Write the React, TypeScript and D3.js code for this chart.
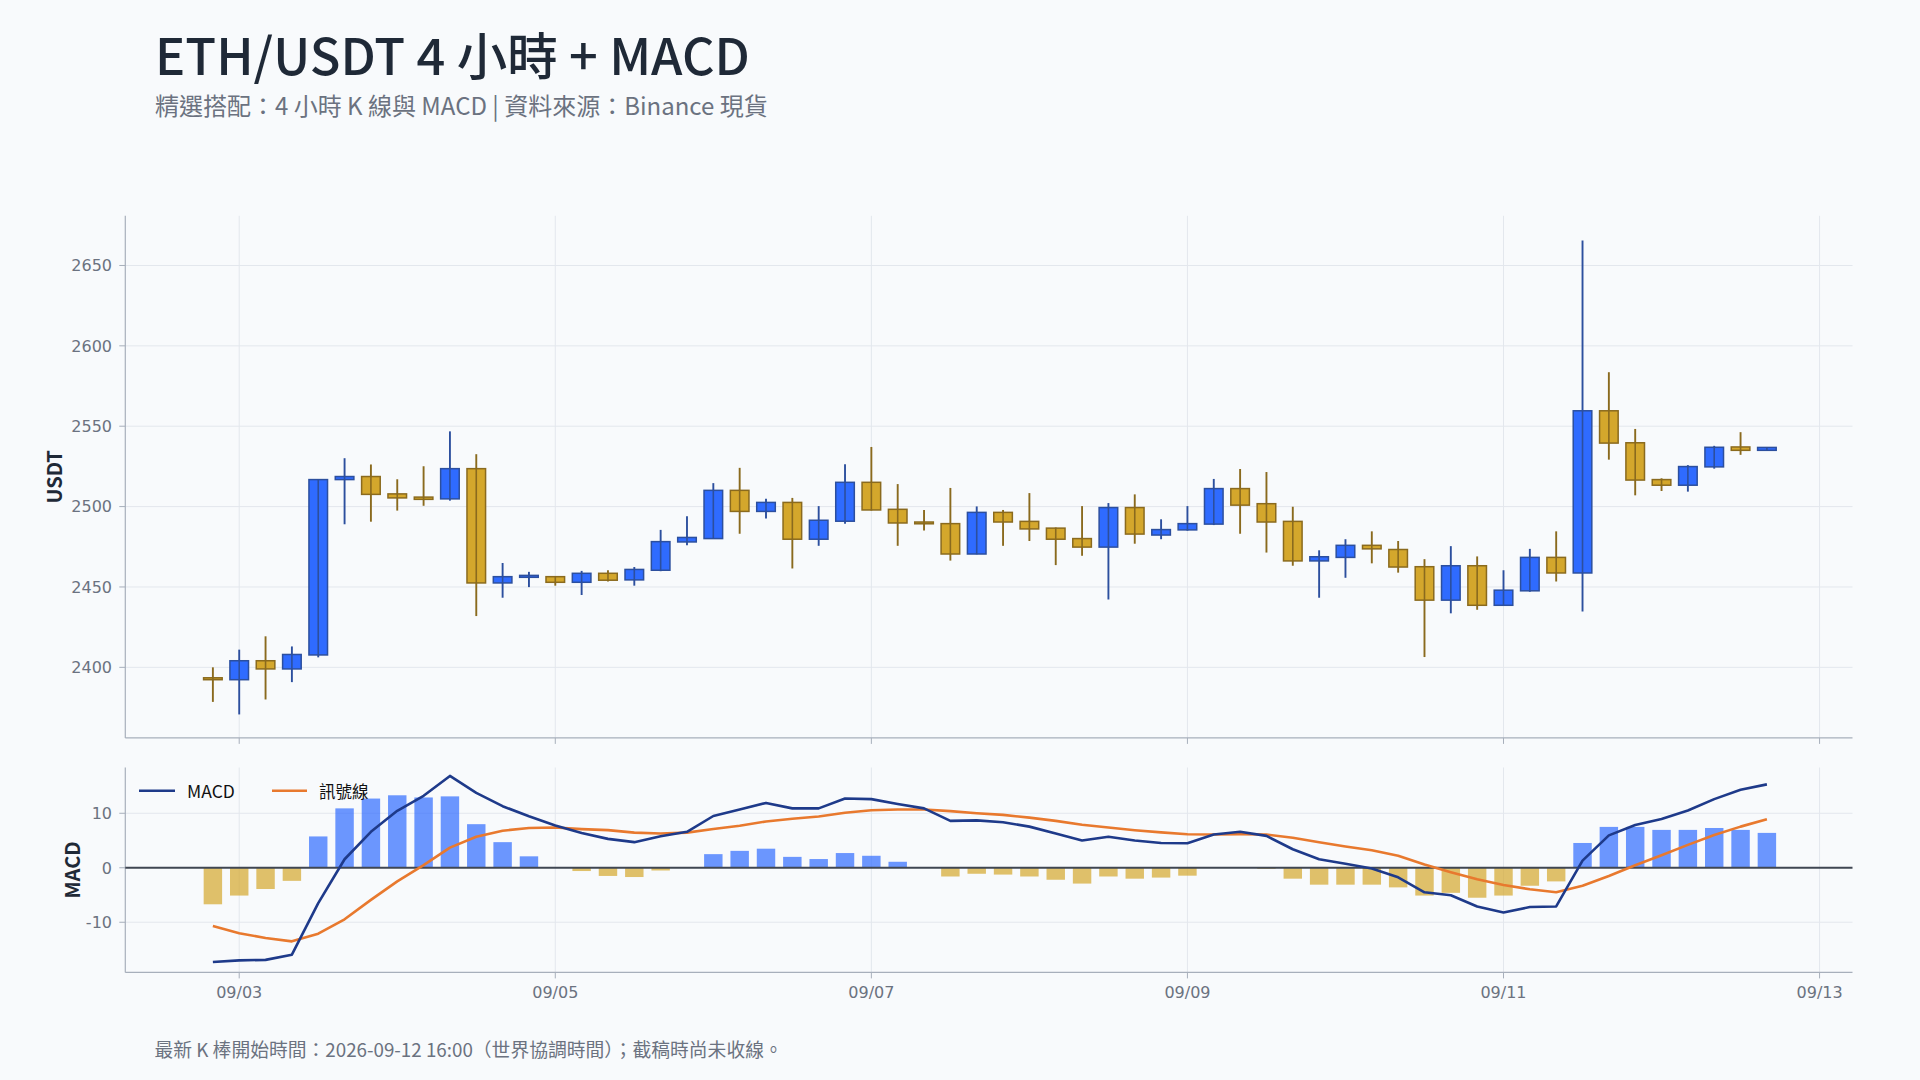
import React from "react";
import * as d3 from "d3";

// ---------- data ----------
const times = [
  "2026-09-02 20:00",
  "2026-09-03 00:00", "2026-09-03 04:00", "2026-09-03 08:00", "2026-09-03 12:00", "2026-09-03 16:00", "2026-09-03 20:00",
  "2026-09-04 00:00", "2026-09-04 04:00", "2026-09-04 08:00", "2026-09-04 12:00", "2026-09-04 16:00", "2026-09-04 20:00",
  "2026-09-05 00:00", "2026-09-05 04:00", "2026-09-05 08:00", "2026-09-05 12:00", "2026-09-05 16:00", "2026-09-05 20:00",
  "2026-09-06 00:00", "2026-09-06 04:00", "2026-09-06 08:00", "2026-09-06 12:00", "2026-09-06 16:00", "2026-09-06 20:00",
  "2026-09-07 00:00", "2026-09-07 04:00", "2026-09-07 08:00", "2026-09-07 12:00", "2026-09-07 16:00", "2026-09-07 20:00",
  "2026-09-08 00:00", "2026-09-08 04:00", "2026-09-08 08:00", "2026-09-08 12:00", "2026-09-08 16:00", "2026-09-08 20:00",
  "2026-09-09 00:00", "2026-09-09 04:00", "2026-09-09 08:00", "2026-09-09 12:00", "2026-09-09 16:00", "2026-09-09 20:00",
  "2026-09-10 00:00", "2026-09-10 04:00", "2026-09-10 08:00", "2026-09-10 12:00", "2026-09-10 16:00", "2026-09-10 20:00",
  "2026-09-11 00:00", "2026-09-11 04:00", "2026-09-11 08:00", "2026-09-11 12:00", "2026-09-11 16:00", "2026-09-11 20:00",
  "2026-09-12 00:00", "2026-09-12 04:00", "2026-09-12 08:00", "2026-09-12 12:00", "2026-09-12 16:00",
];

const opens = [
  2393.5, 2392.3, 2404.1, 2399.0, 2407.7, 2516.8, 2518.7, 2507.9, 2505.9, 2504.8,
  2523.6, 2452.5, 2456.0, 2456.4, 2452.9, 2458.5, 2454.4, 2460.4, 2478.0, 2480.1,
  2510.1, 2497.0, 2502.6, 2479.7, 2490.9, 2515.1, 2498.3, 2490.4, 2489.4, 2470.5,
  2496.4, 2490.8, 2486.6, 2480.1, 2474.8, 2499.4, 2482.3, 2485.5, 2489.1, 2511.2,
  2501.8, 2490.8, 2466.2, 2468.4, 2475.9, 2473.3, 2462.6, 2441.8, 2463.2, 2438.6,
  2447.6, 2468.4, 2458.7, 2559.6, 2539.7, 2516.8, 2513.3, 2524.7, 2537.1, 2535.0,
];
const highs = [
  2400.0, 2411.0, 2419.3, 2413.0, 2517.0, 2530.1, 2526.2, 2517.0, 2525.1, 2546.8,
  2532.6, 2464.9, 2459.4, 2456.8, 2460.0, 2460.4, 2462.4, 2485.5, 2494.0, 2514.6,
  2524.1, 2504.8, 2505.4, 2500.3, 2526.4, 2537.1, 2514.0, 2497.9, 2511.6, 2500.1,
  2497.9, 2508.4, 2487.0, 2500.3, 2502.2, 2507.6, 2492.1, 2500.3, 2517.2, 2523.4,
  2521.5, 2499.9, 2472.8, 2479.7, 2484.6, 2478.6, 2467.3, 2475.4, 2469.0, 2460.4,
  2473.7, 2484.6, 2665.6, 2583.6, 2548.3, 2517.6, 2525.8, 2537.8, 2546.3, 2537.0,
];
const lows = [
  2378.5, 2370.7, 2380.0, 2390.8, 2406.2, 2489.0, 2490.6, 2497.5, 2500.5, 2503.7,
  2431.9, 2443.3, 2449.9, 2450.8, 2445.0, 2453.4, 2450.8, 2459.8, 2475.9, 2480.0,
  2483.1, 2492.6, 2461.5, 2475.6, 2489.4, 2497.5, 2475.6, 2485.1, 2466.4, 2470.3,
  2475.6, 2478.6, 2463.6, 2469.4, 2442.2, 2476.9, 2479.7, 2485.0, 2488.5, 2483.1,
  2471.4, 2463.2, 2443.3, 2455.7, 2464.7, 2458.9, 2406.4, 2433.6, 2435.8, 2438.4,
  2447.0, 2453.4, 2434.7, 2529.2, 2507.0, 2509.7, 2509.3, 2523.6, 2532.2, 2535.0,
];
const closes = [
  2392.3, 2404.1, 2399.0, 2408.0, 2516.8, 2518.7, 2507.6, 2505.4, 2504.5, 2523.6,
  2452.5, 2456.4, 2457.2, 2452.9, 2458.5, 2454.2, 2460.9, 2478.2, 2480.8, 2510.1,
  2497.0, 2502.6, 2479.7, 2491.5, 2515.1, 2497.9, 2489.8, 2489.3, 2470.5, 2496.4,
  2490.4, 2486.1, 2479.7, 2474.8, 2499.4, 2482.9, 2485.7, 2489.4, 2511.2, 2500.9,
  2490.4, 2466.2, 2468.8, 2475.9, 2473.7, 2462.4, 2441.8, 2463.2, 2438.6, 2448.0,
  2468.4, 2458.7, 2559.6, 2539.5, 2516.5, 2513.3, 2524.9, 2536.9, 2535.0, 2536.8,
];

const macdValues = [
  -17.3, -17.0, -16.9, -15.95, -6.5, 1.56, 6.6, 10.45, 13.2, 16.85,
  13.75, 11.3, 9.45, 7.75, 6.4, 5.3, 4.7, 5.8, 6.6, 9.5,
  10.7, 11.9, 10.9, 10.9, 12.7, 12.6, 11.7, 10.9, 8.6, 8.7,
  8.35, 7.55, 6.3, 5.0, 5.7, 5.0, 4.55, 4.5, 6.1, 6.6,
  5.85, 3.4, 1.55, 0.75, -0.15, -1.75, -4.5, -5.05, -7.1, -8.2,
  -7.2, -7.1, 1.3, 5.95, 7.85, 8.95, 10.5, 12.6, 14.3, 15.3,
];
const signalValues = [
  -10.7, -12.0, -12.9, -13.5, -12.1, -9.45, -5.9, -2.5, 0.5, 3.7,
  5.7, 6.8, 7.3, 7.4, 7.1, 6.9, 6.45, 6.3, 6.45, 7.1,
  7.7, 8.5, 9.0, 9.4, 10.1, 10.55, 10.7, 10.7, 10.4, 10.0,
  9.7, 9.2, 8.6, 7.9, 7.4, 6.9, 6.5, 6.15, 6.1, 6.15,
  6.1, 5.5, 4.7, 3.9, 3.2, 2.2, 0.6, -0.8, -2.1, -3.15,
  -3.95, -4.5, -3.3, -1.5, 0.45, 2.3, 4.2, 6.0, 7.55, 8.9,
];
const histValues = [
  -6.7, -5.1, -3.9, -2.4, 5.75, 10.9, 12.7, 13.3, 12.9, 13.1,
  8.0, 4.7, 2.1, 0.1, -0.6, -1.5, -1.7, -0.5, 0.1, 2.5,
  3.1, 3.5, 2.0, 1.6, 2.7, 2.2, 1.1, 0.0, -1.6, -1.1,
  -1.25, -1.6, -2.2, -2.9, -1.6, -2.0, -1.8, -1.45, 0.0, 0.1,
  -0.2, -2.0, -3.1, -3.1, -3.1, -3.6, -5.1, -4.6, -5.5, -5.1,
  -3.3, -2.5, 4.55, 7.5, 7.5, 6.95, 6.95, 7.3, 6.95, 6.4,
];

const priceTicks = [2400, 2450, 2500, 2550, 2600, 2650];
const macdTicks = [-10, 0, 10];
const dateTicks = ["2026-09-03 00:00", "2026-09-05 00:00", "2026-09-07 00:00", "2026-09-09 00:00", "2026-09-11 00:00", "2026-09-13 00:00"];

const titleText = "ETH/USDT 4 小時 + MACD";
const subtitleText = "精選搭配：4 小時 K 線與 MACD | 資料來源：Binance 現貨";
const footerText = "最新 K 棒開始時間：2026-09-12 16:00（世界協調時間）；截稿時尚未收線。";
const legendLabels = ["MACD", "訊號線"];

// ---------- styles ----------
const BG = "#f8fafc";
const GRID = "#e3e7ed";
const AXIS = "#a7afbb";
const TICK_TEXT = "#6b7280";
const UP_FILL = "#2f6bff";
const UP_LINE = "#2c4f9e";
const DOWN_FILL = "#d4a72c";
const DOWN_LINE = "#8a6a1e";
const MACD_COLOR = "#1e3a8a";
const SIGNAL_COLOR = "#e8792e";
const TICK_FONT = "'DejaVu Sans', Verdana, sans-serif";
const CJK_FONT = "'Noto Sans CJK TC', 'Noto Sans', sans-serif";

const parse = d3.utcParse("%Y-%m-%d %H:%M");

export default function App() {
  const dates = times.map((t) => parse(t) as Date);
  const candles = dates.map((d, i) => ({
    d, o: opens[i], h: highs[i], l: lows[i], c: closes[i],
    macd: macdValues[i], sig: signalValues[i], hist: histValues[i],
  }));

  const left = 125.3, right = 1852.5;
  const topY0 = 215.8, topY1 = 737.9;
  const bot0 = 767.5, bot1 = 972.4;

  const hour = 3600 * 1000;
  const x = d3.scaleUtc()
    .domain([new Date(+dates[0] - 13.3 * hour), new Date(+dates[dates.length - 1] + 13.0 * hour)])
    .range([left, right]);
  const y = d3.scaleLinear().domain([2356.1, 2680.9]).range([topY1, topY0]);
  const ym = d3.scaleLinear().domain([-19.2, 18.4]).range([bot1, bot0]);

  const step = x(dates[1]) - x(dates[0]);
  const bodyW = step * 0.706;
  const barW = step * 0.7;
  const fmt = d3.utcFormat("%m/%d");
  const tickDates = dateTicks.map((t) => parse(t) as Date);

  const macdLine = d3.line<any>().x((c) => x(c.d)).y((c) => ym(c.macd));
  const sigLine = d3.line<any>().x((c) => x(c.d)).y((c) => ym(c.sig));

  return (
    <div style={{ position: "absolute", left: 0, top: 0, width: 1920, height: 1080, background: BG }}>
      <svg width={1920} height={1080} viewBox="0 0 1920 1080" style={{ display: "block" }}>
        <rect x={0} y={0} width={1920} height={1080} fill={BG} />

        {/* titles */}
        <text x={155} y={75} fontFamily={CJK_FONT} fontSize={50.5} fontWeight={500} fill="#1f2937">{titleText}</text>
        <text x={155} y={115} fontFamily={CJK_FONT} fontSize={24} fill="#6b7280">{subtitleText}</text>

        {/* ---- top panel ---- */}
        {priceTicks.map((v) => (
          <g key={"pg" + v}>
            <line x1={left} x2={right} y1={y(v)} y2={y(v)} stroke={GRID} strokeWidth={1} />
            <line x1={left - 6} x2={left} y1={y(v)} y2={y(v)} stroke={AXIS} strokeWidth={1} />
            <text x={112} y={y(v)} dy="0.36em" textAnchor="end" fontFamily={TICK_FONT} fontSize={16} fill={TICK_TEXT}>{v}</text>
          </g>
        ))}
        {tickDates.map((d, i) => (
          <g key={"pv" + i}>
            <line x1={x(d)} x2={x(d)} y1={topY0} y2={topY1} stroke={GRID} strokeWidth={1} />
            <line x1={x(d)} x2={x(d)} y1={topY1} y2={topY1 + 6} stroke={AXIS} strokeWidth={1} />
          </g>
        ))}
        <line x1={left} x2={left} y1={topY0} y2={topY1} stroke={AXIS} strokeWidth={1.2} />
        <line x1={left} x2={right} y1={topY1} y2={topY1} stroke={AXIS} strokeWidth={1.2} />

        {candles.map((c, i) => {
          const up = c.c >= c.o;
          const line = up ? UP_LINE : DOWN_LINE;
          const fill = up ? UP_FILL : DOWN_FILL;
          const cx = x(c.d);
          const yt = y(Math.max(c.o, c.c));
          const yb = y(Math.min(c.o, c.c));
          return (
            <g key={"c" + i}>
              <line x1={cx} x2={cx} y1={y(c.h)} y2={y(c.l)} stroke={line} strokeWidth={1.9} />
              <rect x={cx - bodyW / 2} y={yt} width={bodyW} height={Math.max(yb - yt, 1)} fill={fill} stroke={line} strokeWidth={1.5} />
              <line x1={cx} x2={cx} y1={yt} y2={yb} stroke={line} strokeWidth={1.6} />
            </g>
          );
        })}

        <text transform={`translate(53.5,${(topY0 + topY1) / 2}) rotate(-90)`} textAnchor="middle" dominantBaseline="central"
          fontFamily={CJK_FONT} fontSize={20} fontWeight={700} fill="#1f2937">USDT</text>

        {/* ---- MACD panel ---- */}
        {macdTicks.map((v) => (
          <g key={"mg" + v}>
            {v !== 0 && <line x1={left} x2={right} y1={ym(v)} y2={ym(v)} stroke={GRID} strokeWidth={1} />}
            <line x1={left - 6} x2={left} y1={ym(v)} y2={ym(v)} stroke={AXIS} strokeWidth={1} />
            <text x={112} y={ym(v)} dy="0.36em" textAnchor="end" fontFamily={TICK_FONT} fontSize={16} fill={TICK_TEXT}>{v}</text>
          </g>
        ))}
        {tickDates.map((d, i) => (
          <g key={"mv" + i}>
            <line x1={x(d)} x2={x(d)} y1={bot0} y2={bot1} stroke={GRID} strokeWidth={1} />
            <line x1={x(d)} x2={x(d)} y1={bot1} y2={bot1 + 6} stroke={AXIS} strokeWidth={1} />
            <text x={x(d)} y={bot1 + 25.5} textAnchor="middle" fontFamily={TICK_FONT} fontSize={16} fill={TICK_TEXT}>{fmt(d)}</text>
          </g>
        ))}
        <line x1={left} x2={left} y1={bot0} y2={bot1} stroke={AXIS} strokeWidth={1.2} />
        <line x1={left} x2={right} y1={bot1} y2={bot1} stroke={AXIS} strokeWidth={1.2} />

        {candles.map((c, i) => {
          const y0 = ym(0);
          const yv = ym(c.hist);
          return (
            <rect key={"h" + i} x={x(c.d) - barW / 2} y={Math.min(y0, yv)} width={barW} height={Math.abs(yv - y0)}
              fill={c.hist >= 0 ? UP_FILL : DOWN_FILL} fillOpacity={0.7} />
          );
        })}
        <line x1={left} x2={right} y1={ym(0)} y2={ym(0)} stroke="#3f4652" strokeWidth={2} />
        <path d={sigLine(candles) || ""} fill="none" stroke={SIGNAL_COLOR} strokeWidth={2.6} strokeLinejoin="round" />
        <path d={macdLine(candles) || ""} fill="none" stroke={MACD_COLOR} strokeWidth={2.6} strokeLinejoin="round" />

        {/* legend */}
        <line x1={139} x2={175} y1={790.7} y2={790.7} stroke={MACD_COLOR} strokeWidth={2.6} />
        <text x={187} y={790.7} dominantBaseline="central" fontFamily={CJK_FONT} fontSize={17.5} fill="#111111">{legendLabels[0]}</text>
        <line x1={272} x2={307} y1={790.7} y2={790.7} stroke={SIGNAL_COLOR} strokeWidth={2.6} />
        <text x={319} y={790.7} dominantBaseline="central" fontFamily={CJK_FONT} fontSize={16.5} fill="#111111">{legendLabels[1]}</text>

        <text transform={`translate(71,${(bot0 + bot1) / 2}) rotate(-90)`} textAnchor="middle" dominantBaseline="central"
          fontFamily={CJK_FONT} fontSize={20} fontWeight={700} fill="#1f2937">MACD</text>

        {/* footer */}
        <text x={154.5} y={1048} dominantBaseline="central" fontFamily={CJK_FONT} fontSize={18.8} fill="#6b7280">{footerText}</text>
      </svg>
    </div>
  );
}
